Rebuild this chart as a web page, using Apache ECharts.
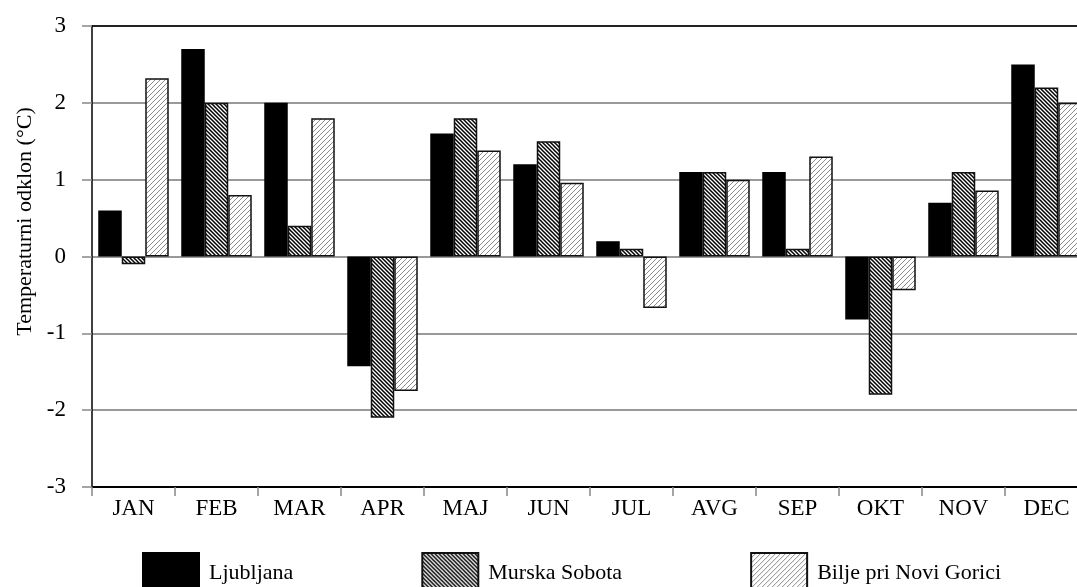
<!DOCTYPE html>
<html>
<head>
<meta charset="utf-8">
<script src="https://cdn.jsdelivr.net/npm/echarts@6/dist/echarts.min.js"></script>
<style>
html,body{margin:0;padding:0;background:#fff;overflow:hidden;}
#chart{width:1088px;height:587px;}
</style>
</head>
<body>
<div id="chart"></div>
<script>
const categories = ['JAN','FEB','MAR','APR','MAJ','JUN','JUL','AVG','SEP','OKT','NOV','DEC'];
const seriesNames = ['Ljubljana','Murska Sobota','Bilje pri Novi Gorici'];
const ljubljana = [0.6, 2.7, 2.0, -1.43, 1.6, 1.2, 0.2, 1.1, 1.1, -0.82, 0.7, 2.5];
const murskaSobota = [-0.1, 2.0, 0.4, -2.1, 1.8, 1.5, 0.1, 1.1, 0.1, -1.8, 1.1, 2.2];
const bilje = [2.32, 0.8, 1.8, -1.75, 1.38, 0.96, -0.67, 1.0, 1.3, -0.44, 0.86, 2.0];
const yTicks = [-3, -2, -1, 0, 1, 2, 3];

function hatch(dir, color, lw, s) {
  const c = document.createElement('canvas');
  c.width = s; c.height = s;
  const g = c.getContext('2d');
  g.fillStyle = '#fff';
  g.fillRect(0, 0, s, s);
  g.strokeStyle = color;
  g.lineWidth = lw;
  g.beginPath();
  if (dir === 'back') {
    g.moveTo(-1, -1); g.lineTo(s + 1, s + 1);
    g.moveTo(s - 1, -1); g.lineTo(s + 1, 1);
    g.moveTo(-1, s - 1); g.lineTo(1, s + 1);
  } else {
    g.moveTo(-1, s + 1); g.lineTo(s + 1, -1);
    g.moveTo(-1, 1); g.lineTo(1, -1);
    g.moveTo(s - 1, s + 1); g.lineTo(s + 1, s - 1);
  }
  g.stroke();
  return c;
}

const patMurska = { image: hatch('back', '#000', 1.5, 4), repeat: 'repeat' };
const patBilje = { image: hatch('fwd', '#8a8a8a', 1, 5), repeat: 'repeat' };

const font = '"Liberation Serif", "Times New Roman", serif';
const chart = echarts.init(document.getElementById('chart'), null, { renderer: 'canvas' });

const barBase = { type: 'bar', barWidth: 23.5, barGap: '0%', animation: false };

chart.setOption({
  backgroundColor: '#fff',
  animation: false,
  grid: { left: 92, top: 26, right: 0, bottom: 100, containLabel: false },
  legend: {
    left: 137, top: 547,
    itemWidth: 56, itemHeight: 40, itemGap: 128,
    icon: 'rect',
    textStyle: { fontFamily: font, fontSize: 22, color: '#000', padding: [0, 0, 0, 5] },
    data: seriesNames
  },
  xAxis: {
    type: 'category',
    data: categories,
    axisLine: { onZero: false, lineStyle: { color: '#000', width: 1.5 } },
    axisTick: { show: true, length: 9, lineStyle: { color: '#888', width: 1.5 } },
    axisLabel: { fontFamily: font, fontSize: 23, color: '#000', margin: 10 },
    splitLine: { show: false }
  },
  yAxis: {
    type: 'value',
    min: -3, max: 3, interval: 1,
    name: 'Temperaturni odklon (°C)',
    nameLocation: 'middle',
    nameGap: 55,
    nameTextStyle: { fontFamily: font, fontSize: 22, color: '#000', padding: [0, 0, 0, 70] },
    axisLine: { show: true, lineStyle: { color: '#000', width: 1.5 } },
    axisTick: { show: true, length: 10, lineStyle: { color: '#888', width: 1.5 } },
    axisLabel: {
      fontFamily: font, fontSize: 23, color: '#000', margin: 26,
      formatter: v => yTicks.includes(v) ? String(v) : ''
    },
    splitLine: { show: true, lineStyle: { color: ['#000', '#999', '#999', '#999', '#999', '#999', '#222'], width: 2 } }
  },
  series: [
    Object.assign({}, barBase, { name: seriesNames[0], data: ljubljana,
      itemStyle: { color: '#000', borderColor: '#000', borderWidth: 1.5 } }),
    Object.assign({}, barBase, { name: seriesNames[1], data: murskaSobota,
      itemStyle: { color: patMurska, borderColor: '#111', borderWidth: 1.5 } }),
    Object.assign({}, barBase, { name: seriesNames[2], data: bilje,
      itemStyle: { color: patBilje, borderColor: '#111', borderWidth: 1.5 } })
  ]
});
</script>
</body>
</html>
